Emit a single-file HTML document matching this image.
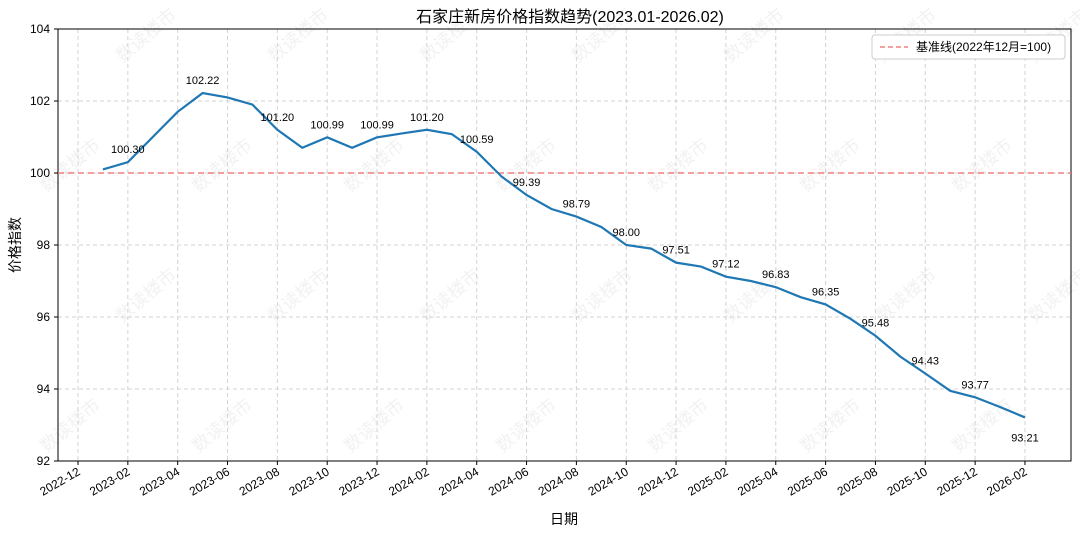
<!DOCTYPE html>
<html><head><meta charset="utf-8"><style>
body{margin:0;background:#fff;}
svg text{font-family:"Liberation Sans","Noto Sans CJK SC",sans-serif;}
</style></head><body>
<svg id="chart" width="1080" height="535">
<g id="wm"></g>
<g id="grid"></g>
<rect x="58" y="29" width="1013" height="432" fill="none" stroke="#000" stroke-width="1"/>
<g id="axes"></g><g id="series"></g>
<text x="570" y="22" font-size="16" text-anchor="middle">石家庄新房价格指数趋势(2023.01-2026.02)</text>
<text x="564" y="524" font-size="14" text-anchor="middle">日期</text>
<text x="20" y="245" font-size="14" text-anchor="middle" transform="rotate(-90 20 245)">价格指数</text>
<g>
<rect x="872" y="35" width="193" height="24" rx="3" fill="#fff" stroke="#ccc"/>
<line x1="880" y1="47" x2="908" y2="47" stroke="#f08080" stroke-width="1.5" stroke-dasharray="5,3"/>
<text x="916" y="51" font-size="12">基准线(2022年12月=100)</text>
</g>
</svg>
<script>
const values=[100.1,100.30,101.0,101.7,102.22,102.1,101.9,101.20,100.7,100.99,100.7,100.99,
101.1,101.20,101.08,100.59,99.9,99.39,99.0,98.79,98.5,98.00,97.9,97.51,
97.4,97.12,97.0,96.83,96.55,96.35,95.95,95.48,94.9,94.43,93.95,93.77,93.5,93.21];
const labeledIdx=[1,4,7,9,11,13,15,17,19,21,23,25,27,29,31,33,35,37];
const yTicks=[92,94,96,98,100,102,104];
const xTickLabels=["2022-12","2023-02","2023-04","2023-06","2023-08","2023-10","2023-12","2024-02","2024-04","2024-06","2024-08","2024-10","2024-12","2025-02","2025-04","2025-06","2025-08","2025-10","2025-12","2026-02"];
const baseline=100;
const NS="http://www.w3.org/2000/svg";
const X=m=>78+m*24.92;
const Y=v=>29+(104-v)*36;
function mk(t,a,p){const e=document.createElementNS(NS,t);for(const k in a)e.setAttribute(k,a[k]);p.appendChild(e);return e;}
const grid=document.getElementById('grid'),axes=document.getElementById('axes'),ser=document.getElementById('series'),wm=document.getElementById('wm');
for(let r=0;r<4;r++)for(let c=0;c<7;c++){const x=150+c*152-(r%2)*76,y=40+r*130;
const t=mk('text',{x:x,y:y,'font-size':'18',fill:'#f2f2f2','text-anchor':'middle',transform:`rotate(-40 ${x} ${y})`},wm);t.textContent='数读楼市';

}
yTicks.forEach(v=>{const y=Y(v);
const g=mk('line',{x1:58,x2:1071,y1:y,y2:y,stroke:'#d3d3d3','stroke-dasharray':'4,3'},grid);


mk('line',{x1:54,x2:58,y1:y,y2:y,stroke:'#000'},axes);
const t=mk('text',{x:50,y:y+4,'font-size':'12','text-anchor':'end'},axes);t.textContent=v;

});
xTickLabels.forEach((s,i)=>{const x=X(i*2);
const g=mk('line',{x1:x,x2:x,y1:29,y2:461,stroke:'#d3d3d3','stroke-dasharray':'4,3'},grid);


mk('line',{x1:x,x2:x,y1:461,y2:465,stroke:'#000'},axes);
const t=mk('text',{x:x+3,y:474,'font-size':'12','text-anchor':'end',transform:`rotate(-30 ${x+3} 474)`},axes);t.textContent=s;

});
const bl=mk('line',{x1:58,x2:1071,y1:Y(baseline),y2:Y(baseline),stroke:'#f08080','stroke-width':1.5,'stroke-dasharray':'6,4'},ser);


const pl=mk('polyline',{points:values.map((v,i)=>X(i+1)+','+Y(v)).join(' '),fill:'none',stroke:'#1f77b4','stroke-width':2.2},ser);


labeledIdx.forEach((i,k)=>{const last=k===labeledIdx.length-1;
const t=mk('text',{x:X(i+1),y:last?Y(values[i])+24:Y(values[i])-9,'font-size':'11','text-anchor':'middle'},ser);
t.textContent=values[i].toFixed(2);

});
</script>
</body></html>
